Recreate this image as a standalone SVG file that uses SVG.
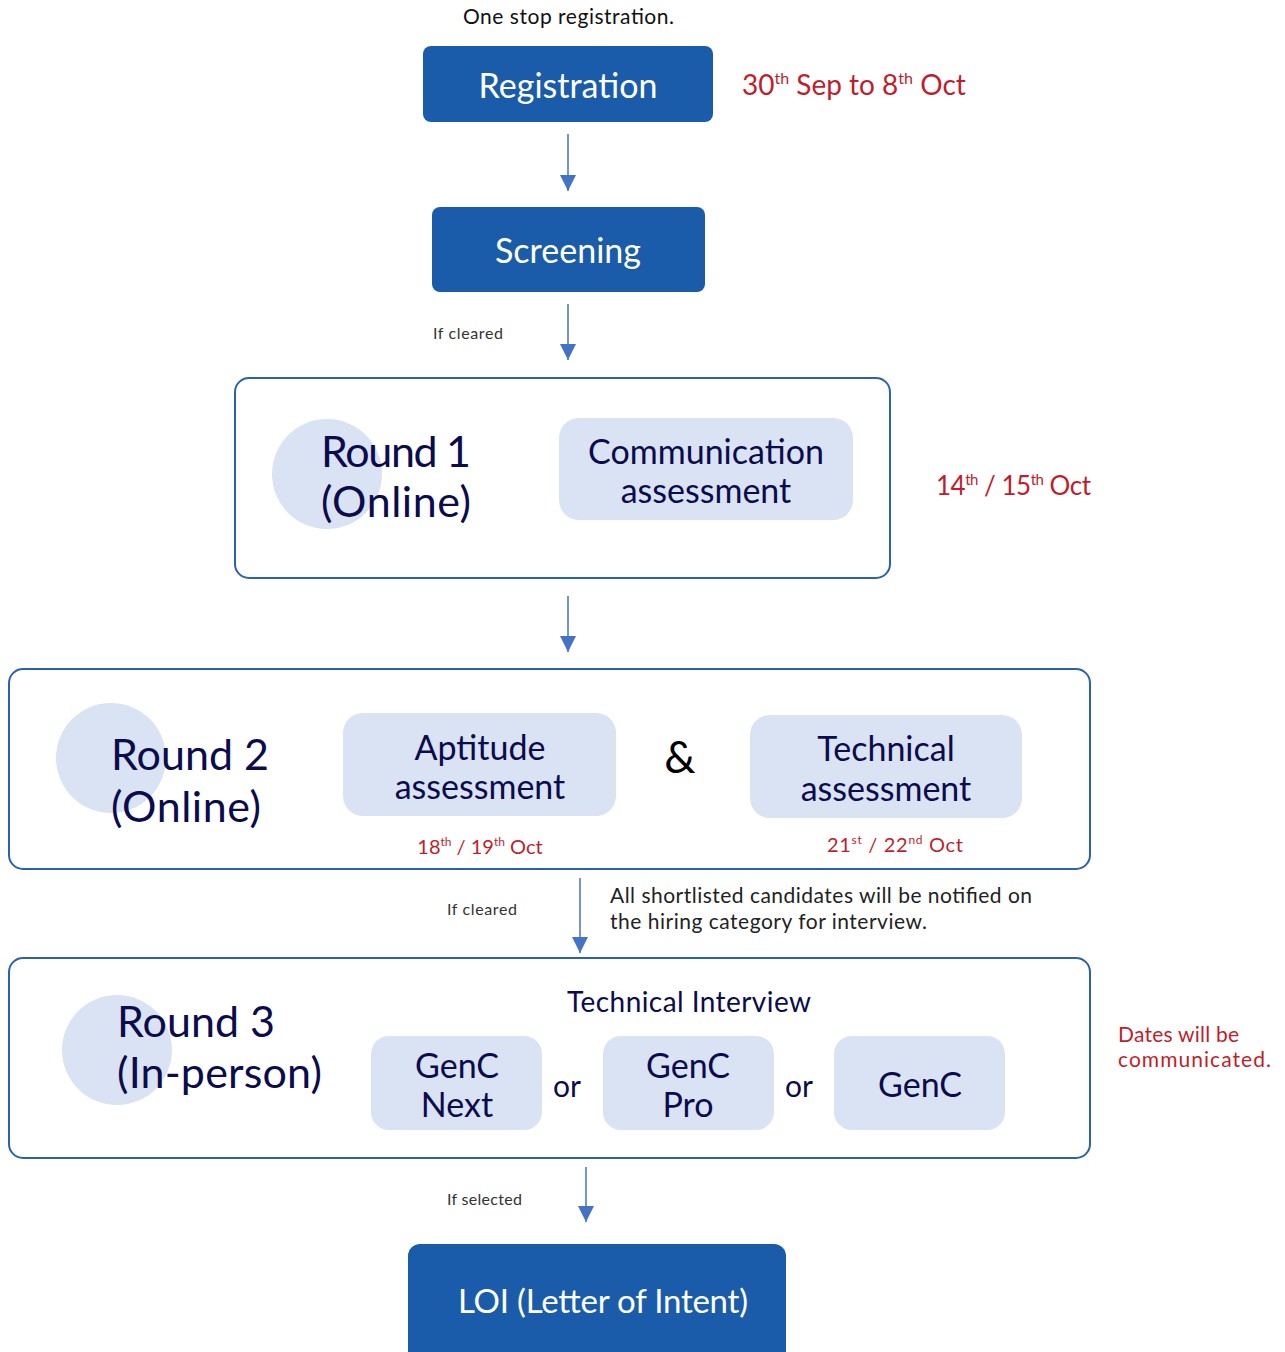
<svg xmlns="http://www.w3.org/2000/svg" width="1285" height="1352" viewBox="0 0 1285 1352">
<defs>
<marker id="ah" viewBox="0 0 10 10" refX="10" refY="5" markerWidth="16" markerHeight="16" markerUnits="userSpaceOnUse" orient="auto">
<path d="M0,0 L10,5 L0,10 z" fill="#4472C4"/>
</marker>
<style>
text{font-family:"Lato","Liberation Sans",sans-serif}
.dark{fill:#1B5CAA}
.light{fill:#DAE3F3}
.frame{fill:#fff;stroke:#2A62B0;stroke-width:2}
.wt{fill:#fff;font-size:34px;text-anchor:middle}
.nv{fill:#0B0B4D}
.rd{fill:#BE1E2D}
.big{font-size:43px}
.mid{font-size:34px;text-anchor:middle}
.sm{font-size:16px;fill:#333}
.conn{stroke:#4472C4;stroke-width:1.5;fill:none;marker-end:url(#ah)}
</style>
</defs>
<rect width="1285" height="1352" fill="#fff"/>
<g id="connectors">
<line class="conn" x1="568" y1="134" x2="568" y2="191"/>
<line class="conn" x1="568" y1="304" x2="568" y2="360"/>
<line class="conn" x1="568" y1="596" x2="568" y2="652"/>
<line class="conn" x1="580" y1="878" x2="580" y2="953"/>
<line class="conn" x1="586" y1="1167" x2="586" y2="1222"/>
<text class="sm" x="433" y="339" textLength="70">If cleared</text>
<text class="sm" x="447" y="915" textLength="70">If cleared</text>
<text class="sm" x="447" y="1205" textLength="75">If selected</text>
</g>
<g id="note-top"><text x="463" y="24" font-size="21" textLength="211" fill="#111">One stop registration.</text></g>
<g id="registration">
<rect class="dark" x="423" y="46" width="290" height="76" rx="8"/>
<text class="wt" x="568" y="98">Registration</text>
</g>
<g id="date-reg"><text class="rd" x="742" y="95" font-size="28">30<tspan font-size="16" dy="-11">th</tspan><tspan dy="11"> Sep to 8</tspan><tspan font-size="16" dy="-11">th</tspan><tspan dy="11"> Oct</tspan></text></g>
<g id="screening">
<rect class="dark" x="432" y="207" width="273" height="85" rx="8"/>
<text class="wt" x="568" y="263">Screening</text>
</g>
<g id="round1">
<rect class="frame" x="235" y="378" width="655" height="200" rx="14"/>
<circle class="light" cx="327" cy="474" r="55"/>
<text class="nv big" x="321" y="467" textLength="150">Round 1</text>
<text class="nv big" x="321" y="517" textLength="150">(Online)</text>
</g>
<g id="communication">
<rect class="light" x="559" y="418" width="294" height="102" rx="20"/>
<text class="nv mid" x="706" y="464">Communication</text>
<text class="nv mid" x="706" y="503">assessment</text>
</g>
<g id="date-r1"><text class="rd" x="936" y="495" font-size="26" textLength="155">14<tspan font-size="15" dy="-10">th</tspan><tspan dy="10"> / 15</tspan><tspan font-size="15" dy="-10">th</tspan><tspan dy="10"> Oct</tspan></text></g>
<g id="round2">
<rect class="frame" x="9" y="669" width="1081" height="200" rx="14"/>
<circle class="light" cx="111" cy="758" r="55"/>
<text class="nv big" x="111" y="770" textLength="158">Round 2</text>
<text class="nv big" x="111" y="822" textLength="150">(Online)</text>
<text x="680" y="773" font-size="44" text-anchor="middle" fill="#000">&amp;</text>
</g>
<g id="aptitude">
<rect class="light" x="343" y="713" width="273" height="103" rx="20"/>
<text class="nv mid" x="480" y="760">Aptitude</text>
<text class="nv mid" x="480" y="799">assessment</text>
<text class="rd" x="480" y="854" font-size="20" text-anchor="middle">18<tspan font-size="12" dy="-8">th</tspan><tspan dy="8"> / 19</tspan><tspan font-size="12" dy="-8">th</tspan><tspan dy="8"> Oct</tspan></text>
</g>
<g id="technical">
<rect class="light" x="750" y="715" width="272" height="103" rx="20"/>
<text class="nv mid" x="886" y="761">Technical</text>
<text class="nv mid" x="886" y="801">assessment</text>
<text class="rd" x="827" y="852" font-size="20" textLength="136">21<tspan font-size="12" dy="-8">st</tspan><tspan dy="8">  / 22</tspan><tspan font-size="12" dy="-8">nd</tspan><tspan dy="8"> Oct</tspan></text>
</g>
<g id="note-shortlist">
<text x="610" y="903" font-size="21" fill="#222" textLength="422">All shortlisted candidates will be notified on</text>
<text x="610" y="929" font-size="21" fill="#222" textLength="317">the hiring category for interview.</text>
</g>
<g id="round3">
<rect class="frame" x="9" y="958" width="1081" height="200" rx="14"/>
<circle class="light" cx="117" cy="1050" r="55"/>
<text class="nv big" x="117" y="1037" textLength="158">Round 3</text>
<text class="nv big" x="117" y="1088" textLength="205">(In-person)</text>
<text class="nv" x="567" y="1012" font-size="28" textLength="244">Technical Interview</text>
<text class="nv" x="567" y="1097" font-size="30" text-anchor="middle">or</text>
<text class="nv" x="799" y="1097" font-size="30" text-anchor="middle">or</text>
</g>
<g id="genc-next">
<rect class="light" x="371" y="1036" width="171" height="94" rx="18"/>
<text class="nv mid" x="457" y="1078">GenC</text>
<text class="nv mid" x="457" y="1117">Next</text>
</g>
<g id="genc-pro">
<rect class="light" x="603" y="1036" width="171" height="94" rx="18"/>
<text class="nv mid" x="688" y="1078">GenC</text>
<text class="nv mid" x="688" y="1117">Pro</text>
</g>
<g id="genc">
<rect class="light" x="834" y="1036" width="171" height="94" rx="18"/>
<text class="nv mid" x="920" y="1097">GenC</text>
</g>
<g id="date-r3">
<text class="rd" x="1118" y="1042" font-size="21" textLength="121">Dates will be</text>
<text class="rd" x="1118" y="1067" font-size="21" textLength="153">communicated.</text>
</g>
<g id="loi">
<rect class="dark" x="408" y="1244" width="378" height="120" rx="12"/>
<text x="458" y="1313" fill="#fff" font-size="33" textLength="290">LOI (Letter of Intent)</text>
</g>
</svg>
